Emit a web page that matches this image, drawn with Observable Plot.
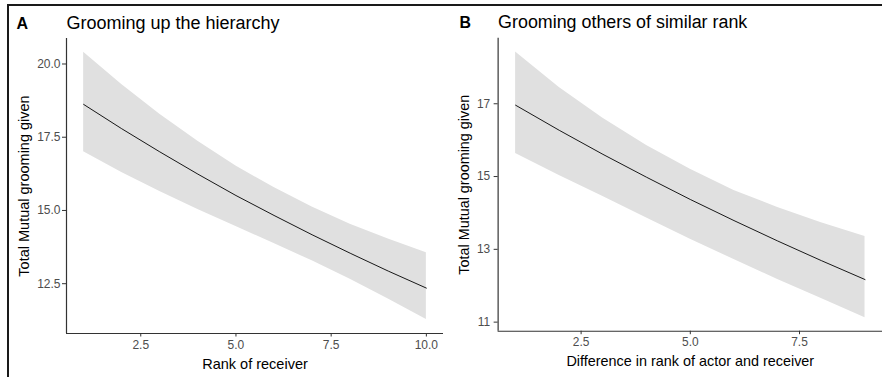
<!DOCTYPE html>
<html>
<head>
<meta charset="utf-8">
<script src="https://cdn.jsdelivr.net/npm/d3@7"></script>
<script src="https://cdn.jsdelivr.net/npm/@observablehq/plot@0.6"></script>
<style>
  html, body { margin: 0; padding: 0; background: #fff; }
  #root { position: relative; width: 882px; height: 377px; overflow: hidden; background: #fff;
          font-family: "Liberation Sans", Arial, sans-serif; }
  #a, #b { position: absolute; top: 0; }
  #a { left: 0; }
  #b { left: 443px; }
  #frame { position: absolute; left: 7px; top: 4px; width: 880px; height: 380px;
           border-top: 2px solid #1a1a1a; border-left: 2px solid #1a1a1a; pointer-events: none; }
</style>
</head>
<body>
<div id="root">
  <div id="a"></div>
  <div id="b"></div>
  <div id="frame"></div>
</div>
<script>
// Panel A: Grooming up the hierarchy
const rankA  = [1, 2, 3, 4, 5, 6, 7, 8, 9, 10];
const meanA  = [18.62, 17.79, 17.00, 16.24, 15.51, 14.83, 14.17, 13.54, 12.93, 12.35];
const upperA = [20.40, 19.30, 18.28, 17.36, 16.52, 15.78, 15.12, 14.53, 14.03, 13.56];
const lowerA = [17.00, 16.30, 15.65, 15.03, 14.45, 13.87, 13.28, 12.65, 11.98, 11.28];
const xTicksA = [2.5, 5, 7.5, 10];
const yTicksA = [12.5, 15, 17.5, 20];

// Panel B: Grooming others of similar rank
const diffB  = [1, 2, 3, 4, 5, 6, 7, 8, 9];
const meanB  = [16.96, 16.27, 15.61, 14.98, 14.37, 13.79, 13.23, 12.69, 12.17];
const upperB = [18.42, 17.45, 16.60, 15.85, 15.20, 14.62, 14.15, 13.73, 13.35];
const lowerB = [15.63, 15.03, 14.45, 13.86, 13.28, 12.72, 12.17, 11.65, 11.12];
const xTicksB = [2.5, 5, 7.5];
const yTicksB = [11, 13, 15, 17];

const rowsA = rankA.map((x, i) => ({x, y: meanA[i], lo: lowerA[i], hi: upperA[i]}));
const rowsB = diffB.map((x, i) => ({x, y: meanB[i], lo: lowerB[i], hi: upperB[i]}));

const FONT = '"Liberation Sans", Arial, sans-serif';

function panel(o) {
  return Plot.plot({
    width: o.width,
    height: 377,
    marginLeft: o.marginLeft,
    marginRight: 0,
    marginTop: 38,
    marginBottom: 44,
    style: {fontFamily: FONT, fontSize: "12px", color: "#333", background: "transparent", overflow: "visible"},
    x: {domain: o.xDomain},
    y: {domain: o.yDomain},
    marks: [
      Plot.areaY(o.rows, {x: "x", y1: "lo", y2: "hi", fill: "#e0e0e0"}),
      Plot.lineY(o.rows, {x: "x", y: "y", stroke: "#000", strokeWidth: 0.9}),
      Plot.ruleX([o.xDomain[0]], {stroke: "#333", strokeWidth: 1.2}),
      Plot.ruleY([o.yDomain[0]], {stroke: "#333", strokeWidth: 1.2}),
      Plot.axisX({ticks: o.xTicks, tickFormat: d3.format(".1f"), tickSize: 3.5, tickPadding: 3,
                  label: null, stroke: "#333", fill: "#4d4d4d", fontSize: 12}),
      Plot.axisY({ticks: o.yTicks, tickFormat: o.yFormat, tickSize: 4, tickPadding: o.yPad,
                  label: null, stroke: "#333", fill: "#4d4d4d", fontSize: 12}),
      Plot.text([o.title], {text: d => d, frameAnchor: "top-left", dy: -10, textAnchor: "start",
                  lineAnchor: "bottom", fontSize: 18, fill: "#000"}),
      Plot.text([o.tag], {text: d => d, frameAnchor: "top-left", dx: o.tagDx, dy: -10, textAnchor: "start",
                  lineAnchor: "bottom", fontSize: 16, fontWeight: "bold", fill: "#000"}),
      Plot.text([o.xLabel], {text: d => d, frameAnchor: "bottom", dy: 35, textAnchor: "middle",
                  lineAnchor: "bottom", fontSize: 14.5, fill: "#000"}),
      Plot.text([o.yLabel], {text: d => d, frameAnchor: "left", dx: o.yLabelDx, rotate: -90,
                  textAnchor: "middle", lineAnchor: "bottom", fontSize: 14.5, fill: "#000"})
    ]
  });
}

document.getElementById("a").appendChild(panel({
  rows: rowsA, width: 443, marginLeft: 66,
  xDomain: [0.55, 10.45], yDomain: [10.8, 20.87],
  xTicks: xTicksA, yTicks: yTicksA, yFormat: d3.format(".1f"), yPad: 2,
  title: "Grooming up the hierarchy", tag: "A", tagDx: -50,
  xLabel: "Rank of receiver", yLabel: "Total Mutual grooming given", yLabelDx: -38
}));

document.getElementById("b").appendChild(panel({
  rows: rowsB, width: 442, marginLeft: 55,
  xDomain: [0.6, 9.4], yDomain: [10.75, 18.8],
  xTicks: xTicksB, yTicks: yTicksB, yFormat: d3.format("d"), yPad: 4,
  title: "Grooming others of similar rank", tag: "B", tagDx: -39,
  xLabel: "Difference in rank of actor and receiver", yLabel: "Total Mutual grooming given", yLabelDx: -29
}));
</script>
</body>
</html>
